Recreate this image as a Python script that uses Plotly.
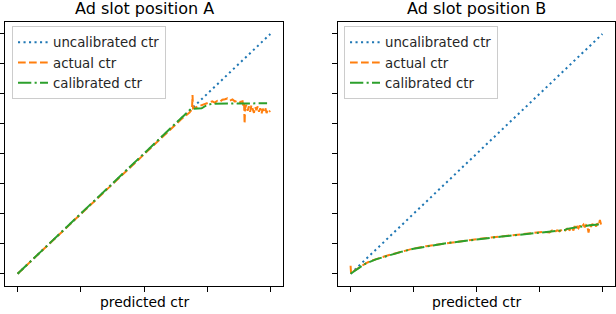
import plotly.graph_objects as go

# ---------------- data ----------------
titles = ["Ad slot position A", "Ad slot position B"]
x_label = "predicted ctr"
series_names = ["uncalibrated ctr", "actual ctr", "calibrated ctr"]

# uncalibrated ctr == predicted ctr
uncal_x = [0.0, 0.25, 0.5, 0.75, 1.0]
uncal_y = [0.0, 0.25, 0.5, 0.75, 1.0]

# Position A
actual_a_x = [0.00, 0.05, 0.10, 0.15, 0.20, 0.25, 0.30, 0.35, 0.40, 0.45, 0.50, 0.55, 0.60, 0.65, 0.68,
              0.690, 0.692, 0.694,
              0.70, 0.71, 0.72, 0.73, 0.74, 0.75, 0.76, 0.77, 0.78, 0.79, 0.80, 0.81, 0.82, 0.83, 0.84,
              0.85, 0.86, 0.87, 0.88, 0.89,
              0.893, 0.896, 0.898,
              0.900, 0.905, 0.910, 0.915, 0.920, 0.925, 0.930, 0.935, 0.940, 0.945, 0.950, 0.955, 0.960,
              0.965, 0.970, 0.975, 0.980, 0.985, 0.990, 0.995, 1.000]
actual_a_y = [0.0, 0.05, 0.1, 0.15, 0.2, 0.249, 0.299, 0.349, 0.398, 0.448, 0.497, 0.547, 0.597, 0.647, 0.672,
              0.686, 0.745, 0.690,
              0.692, 0.696, 0.699, 0.702, 0.705, 0.709, 0.716, 0.719, 0.714, 0.721, 0.717, 0.726, 0.728, 0.731,
              0.722, 0.727, 0.718, 0.723, 0.716, 0.719,
              0.700, 0.712, 0.626,
              0.690, 0.705, 0.680, 0.698, 0.675, 0.703, 0.686, 0.671, 0.695, 0.682, 0.698, 0.676, 0.690,
              0.668, 0.688, 0.680, 0.693, 0.670, 0.684, 0.676, 0.679]
calib_a_x = [0.0, 0.1, 0.2, 0.3, 0.4, 0.5, 0.6, 0.65, 0.686, 0.728, 0.748, 0.768, 0.80, 0.85, 0.90, 0.95, 0.987]
calib_a_y = [0.0, 0.1, 0.2, 0.3, 0.4, 0.5, 0.6, 0.65, 0.688, 0.690, 0.703, 0.709, 0.709, 0.708, 0.709, 0.710, 0.711]

# Position B
actual_b_x = [0.000, 0.002, 0.01, 0.02, 0.03, 0.04, 0.05, 0.06, 0.08, 0.10, 0.12, 0.15,
              0.20, 0.25, 0.30, 0.35, 0.40, 0.45, 0.50, 0.55, 0.60, 0.65, 0.70, 0.75,
              0.77, 0.79, 0.80, 0.81, 0.82, 0.83, 0.84, 0.85, 0.86, 0.87, 0.88,
              0.885, 0.890, 0.895, 0.900, 0.905, 0.910, 0.915, 0.920, 0.925, 0.930, 0.935, 0.940,
              0.945, 0.950, 0.955, 0.960, 0.965, 0.970, 0.975, 0.980, 0.985, 0.990, 0.995, 1.000]
actual_b_y = [0.033, 0.000, 0.009, 0.016, 0.023, 0.031, 0.037, 0.043, 0.053, 0.061, 0.067, 0.077,
              0.092, 0.105, 0.115, 0.123, 0.131, 0.138, 0.144, 0.150, 0.156, 0.161, 0.166, 0.171,
              0.175, 0.172, 0.180, 0.174, 0.181, 0.177, 0.184, 0.178, 0.188, 0.182, 0.192,
              0.180, 0.199, 0.186, 0.196, 0.190, 0.201, 0.193, 0.199, 0.205, 0.194, 0.203, 0.198,
              0.172, 0.204, 0.196, 0.208, 0.199, 0.206, 0.197, 0.210, 0.201, 0.224, 0.203, 0.209]
calib_b_x = [0.0, 0.01, 0.02, 0.03, 0.04, 0.05, 0.06, 0.08, 0.10, 0.12, 0.15, 0.20, 0.25, 0.30, 0.35,
             0.40, 0.45, 0.50, 0.55, 0.60, 0.65, 0.70, 0.75, 0.80, 0.85, 0.86, 0.90, 0.95, 0.99]
calib_b_y = [0.0, 0.008, 0.015, 0.022, 0.030, 0.036, 0.042, 0.052, 0.060, 0.066, 0.076, 0.091, 0.104, 0.114,
             0.122, 0.130, 0.137, 0.143, 0.149, 0.155, 0.160, 0.165, 0.170, 0.176, 0.182, 0.187, 0.194,
             0.202, 0.206]

x_ticks = [0.0, 0.25, 0.5, 0.75, 1.0]
y_ticks = [0.0, 0.125, 0.25, 0.375, 0.5, 0.625, 0.75, 0.875, 1.0]

# ---------------- styling ----------------
W, H = 616, 314
FONT = "DejaVu Sans"
colors = ["#1f77b4", "#ff7f0e", "#2ca02c"]
dashes = ["2.1px,3.4px", "7.7px,3.3px", "13.3px,3.3px,2.1px,3.3px"]
LW = 2.0

fig = go.Figure()

panels = [
    (uncal_x, uncal_y, actual_a_x, actual_a_y, calib_a_x, calib_a_y),
    (uncal_x, uncal_y, actual_b_x, actual_b_y, calib_b_x, calib_b_y),
]
xdomains = [[5 / W, 283 / W], [338 / W, 615 / W]]
ydomain = [1 - 285.7 / H, 1 - 22 / H]
legend_x = [12 / W, 344 / W]

for i, (ux, uy, ax_, ay_, cx, cy) in enumerate(panels):
    xa = "x" if i == 0 else "x2"
    ya = "y" if i == 0 else "y2"
    lg = "legend" if i == 0 else "legend2"
    for j, (xs, ys) in enumerate([(ux, uy), (ax_, ay_), (cx, cy)]):
        fig.add_trace(go.Scatter(
            x=xs, y=ys, mode="lines", name=series_names[j],
            line=dict(color=colors[j], width=LW, dash=dashes[j]),
            xaxis=xa, yaxis=ya, legend=lg, showlegend=True,
        ))

axis_common = dict(
    showgrid=False, zeroline=False, showline=True, linecolor="black", linewidth=1.1,
    mirror=True, ticks="outside", ticklen=4.9, tickwidth=1.1, tickcolor="black",
    showticklabels=False,
)

legend_common = dict(
    xanchor="left", yanchor="top", y=1 - 26 / H,
    bgcolor="rgba(255,255,255,0.8)", bordercolor="#cccccc", borderwidth=1,
    font=dict(family=FONT, size=13.3, color="#262626"),
)

fig.update_layout(
    width=W, height=H,
    margin=dict(l=0, r=0, t=0, b=0),
    paper_bgcolor="white", plot_bgcolor="white",
    font=dict(family=FONT, size=13.9, color="black"),
    xaxis=dict(domain=xdomains[0], range=[-0.05, 1.05], tickvals=x_ticks, anchor="y", **axis_common),
    yaxis=dict(domain=ydomain, range=[-0.05, 1.05], tickvals=y_ticks, anchor="x", **axis_common),
    xaxis2=dict(domain=xdomains[1], range=[-0.05, 1.05], tickvals=x_ticks, anchor="y2", **axis_common),
    yaxis2=dict(domain=ydomain, range=[-0.05, 1.05], tickvals=y_ticks, anchor="x2", **axis_common),
    legend=dict(x=legend_x[0], **legend_common),
    legend2=dict(x=legend_x[1], **legend_common),
)

annotations = []
for i in range(2):
    cx = (xdomains[i][0] + xdomains[i][1]) / 2
    annotations.append(dict(text=titles[i], x=cx, y=1 - 8.5 / H, xref="paper", yref="paper",
                            xanchor="center", yanchor="middle", showarrow=False,
                            font=dict(family=FONT, size=16, color="black")))
    annotations.append(dict(text=x_label, x=cx, y=1 - 302 / H, xref="paper", yref="paper",
                            xanchor="center", yanchor="middle", showarrow=False,
                            font=dict(family=FONT, size=13.9, color="black")))
fig.update_layout(annotations=annotations)

fig.write_html(
    "out.html",
    config={"displayModeBar": False},
    post_script="document.body.style.margin='0';document.body.style.overflow='hidden';",
)
